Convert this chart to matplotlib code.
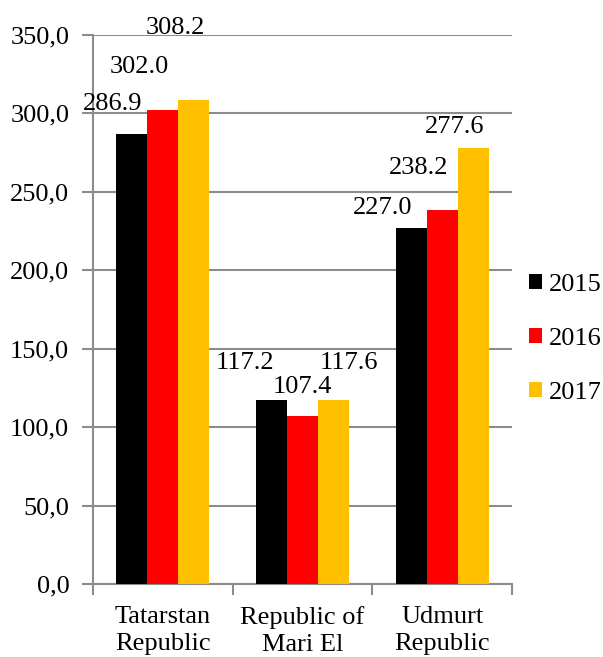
import matplotlib
matplotlib.use('Agg')
import matplotlib.pyplot as plt
import numpy as np

regions = ['Tatarstan\nRepublic', 'Republic of\nMari El', 'Udmurt\nRepublic']
years = ['2015', '2016', '2017']
v2015 = [286.9, 117.2, 227.0]
v2016 = [302.0, 107.4, 238.2]
v2017 = [308.2, 117.6, 277.6]
colors = ['#000000', '#ff0000', '#ffc000']

# label offsets (pixels) relative to top centre of each bar, as placed in the source chart
lab_dx = [[-19, -26, -28], [-23, 0, -23], [-18, 16, -18]]
lab_dy = [[30, 37, 20], [43, 29, 42], [72, 37, 21]]

plt.rcParams['font.family'] = ['Liberation Serif', 'DejaVu Serif']
fs = 19

fig = plt.figure(figsize=(6.03, 6.57), dpi=100)
ax = fig.add_axes([0.154, 0.111, 0.695, 0.836])

x = np.arange(len(regions))
w = 0.222
series = [v2015, v2016, v2017]
for i, vals in enumerate(series):
    xs = x + (i - 1) * w
    ax.bar(xs, vals, w, color=colors[i], label=years[i], zorder=3)
    for j in range(len(vals)):
        ax.annotate('%.1f' % vals[j], xy=(xs[j], vals[j]),
                    xytext=(lab_dx[i][j], lab_dy[i][j]), textcoords='offset pixels',
                    ha='center', va='center', fontsize=fs, zorder=4)

ax.set_ylim(0, 350)
ax.set_xlim(-0.5, 2.5)
yt = np.arange(0, 351, 50)
ax.set_yticks(yt)
ax.set_yticklabels([('%.1f' % t).replace('.', ',') for t in yt])
ax.yaxis.grid(True, color='#8c8c8c', linewidth=1.5, zorder=0)

ax.set_xticks([-0.5, 0.5, 1.5, 2.5])
ax.set_xticklabels([])
ax.set_xticks(x, minor=True)
ax.set_xticklabels(regions, minor=True, fontsize=fs, linespacing=1.3)
ax.tick_params(axis='x', which='minor', length=0, pad=16)
ax.tick_params(axis='x', which='major', length=8, width=1.5, color='#8c8c8c', direction='out')
ax.tick_params(axis='y', length=8, width=1.5, color='#8c8c8c', labelsize=fs, pad=9)

for s in ['top', 'right']:
    ax.spines[s].set_visible(False)
for s in ['left', 'bottom']:
    ax.spines[s].set_color('#8c8c8c')
    ax.spines[s].set_linewidth(1.5)

ax.legend(loc='center left', bbox_to_anchor=(0.877, 0.484), bbox_transform=fig.transFigure,
          frameon=False, fontsize=fs, handlelength=0.5, handleheight=0.5,
          handletextpad=0.25, labelspacing=1.2, borderaxespad=0, borderpad=0)

fig.savefig('out.png', dpi=100)
